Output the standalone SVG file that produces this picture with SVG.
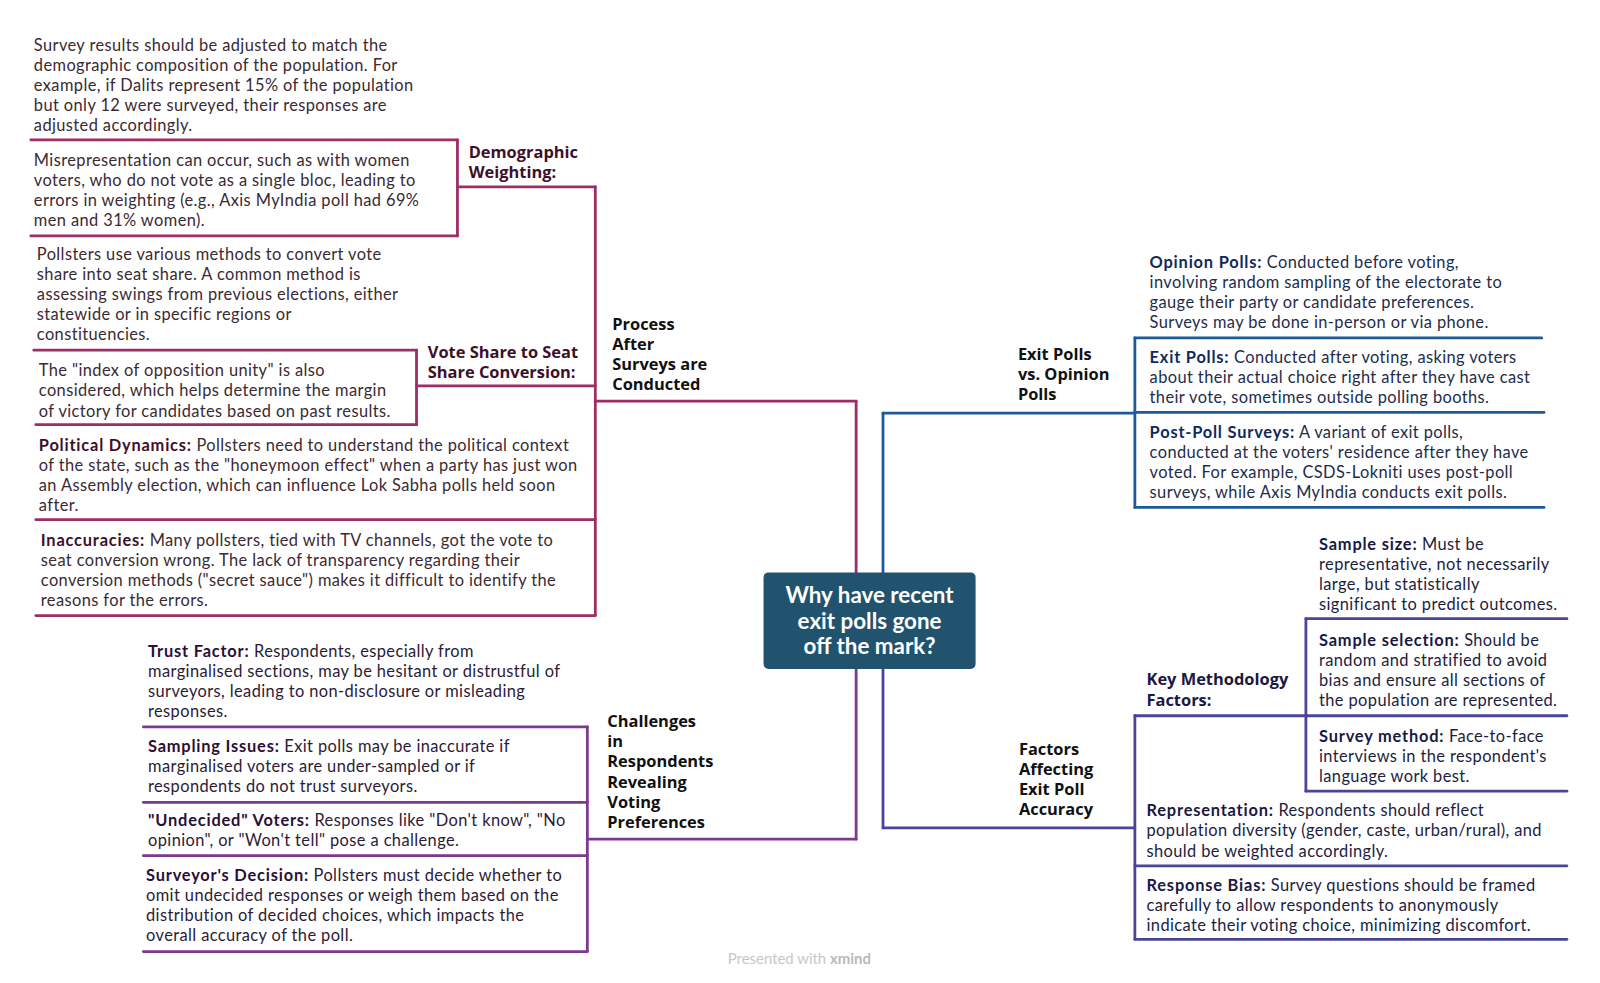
<svg xmlns="http://www.w3.org/2000/svg" width="1600" height="983" viewBox="0 0 1600 983">
<style>
.b{font-family:Lato,"Noto Sans",sans-serif;font-size:16.5px;letter-spacing:0.4px}
.k{font-weight:700;letter-spacing:0.8px}
.h{font-family:"Open Sans","Noto Sans",sans-serif;font-weight:700;font-size:16.5px}
.t1{fill:#3a2a33}.k1{fill:#3d1029}
.t2{fill:#2c1b35}.k2{fill:#2b0f36}
.t3{fill:#1e2c4b}.k3{fill:#0f2b5c}
.t4{fill:#201e3e}.k4{fill:#1b1842}
.hd{fill:#3d1029}.hb{fill:#111}
.ln{fill:none;stroke-width:2.8;stroke-linecap:round;stroke-linejoin:round}
.c1{stroke:#9e2d66}.c2{stroke:#7c3a8e}.c3{stroke:#1f5a98}.c4{stroke:#4a4596}
.ctr{font-family:Lato,"Noto Sans",sans-serif;font-weight:700;font-size:22.5px;fill:#fff}
</style>
<rect width="1600" height="983" fill="#fff"/>
<g transform="matrix(0.9955 0 0 0.9955 0 0)">
<g id="connectors">
<path class="ln c1" d="M860,575V403"/>
<path class="ln c2" d="M860,672V843"/>
<path class="ln c3" d="M887,575V415"/>
<path class="ln c4" d="M887,672V831.7"/>
<path class="ln c1" d="M598,187.7V618.4"/>
<path class="ln c1" d="M459.5,140.5V237"/>
<path class="ln c1" d="M418.4,351.8V426.6"/>
<path class="ln c2" d="M590,730.2V955.9"/>
<path class="ln c3" d="M1140,339.5V509.7"/>
<path class="ln c4" d="M1140,719V943.6"/>
<path class="ln c4" d="M1311.8,621.5V794.8"/>
</g>
<g id="center">
<rect x="767" y="575" width="213" height="97" rx="5" fill="#21536f"/>
<text class="ctr" text-anchor="middle"><tspan x="873.5" y="606">Why have recent</tspan><tspan x="873.5" y="632">exit polls gone</tspan><tspan x="873.5" y="657">off the mark?</tspan></text>
</g>
<g id="process">
<text class="h hb"><tspan x="615" y="331">Process</tspan><tspan x="615" y="351.2">After</tspan><tspan x="615" y="371.4">Surveys are</tspan><tspan x="615" y="391.6">Conducted</tspan></text>
<path class="ln c1" d="M598,403H860"/>
</g>
<g id="demographic">
<text class="h hd"><tspan x="470.8" y="158.5">Demographic</tspan><tspan x="470.8" y="178.7">Weighting:</tspan></text>
<path class="ln c1" d="M459.5,187.7H598"/>
</g>
<g id="survey-results">
<text class="b t1"><tspan x="34" y="51">Survey results should be adjusted to match the</tspan><tspan x="34" y="71.2">demographic composition of the population. For</tspan><tspan x="34" y="91.4">example, if Dalits represent 15% of the population</tspan><tspan x="34" y="111.6">but only 12 were surveyed, their responses are</tspan><tspan x="34" y="131.8">adjusted accordingly.</tspan></text>
<path class="ln c1" d="M31,140.5H459.5"/>
</g>
<g id="misrepresentation">
<text class="b t1"><tspan x="34" y="166.5">Misrepresentation can occur, such as with women</tspan><tspan x="34" y="186.7">voters, who do not vote as a single bloc, leading to</tspan><tspan x="34" y="206.9">errors in weighting (e.g., Axis MyIndia poll had 69%</tspan><tspan x="34" y="227.1">men and 31% women).</tspan></text>
<path class="ln c1" d="M31,237H459.5"/>
</g>
<g id="vote-share">
<text class="h hd"><tspan x="429.7" y="359.5">Vote Share to Seat</tspan><tspan x="429.7" y="379.7">Share Conversion:</tspan></text>
<path class="ln c1" d="M418.4,387.7H598"/>
</g>
<g id="pollsters-methods">
<text class="b t1"><tspan x="37" y="261">Pollsters use various methods to convert vote</tspan><tspan x="37" y="281.2">share into seat share. A common method is</tspan><tspan x="37" y="301.4">assessing swings from previous elections, either</tspan><tspan x="37" y="321.6">statewide or in specific regions or</tspan><tspan x="37" y="341.8">constituencies.</tspan></text>
<path class="ln c1" d="M34,351.8H418.4"/>
</g>
<g id="opposition-unity">
<text class="b t1"><tspan x="39" y="378">The "index of opposition unity" is also</tspan><tspan x="39" y="398.2">considered, which helps determine the margin</tspan><tspan x="39" y="418.4">of victory for candidates based on past results.</tspan></text>
<path class="ln c1" d="M36,426.6H418.4"/>
</g>
<g id="political-dynamics">
<text class="b t1"><tspan x="39" y="453"><tspan class="k k1">Political Dynamics:</tspan> Pollsters need to understand the political context</tspan><tspan x="39" y="473.2">of the state, such as the "honeymoon effect" when a party has just won</tspan><tspan x="39" y="493.4">an Assembly election, which can influence Lok Sabha polls held soon</tspan><tspan x="39" y="513.6">after.</tspan></text>
<path class="ln c1" d="M36,522H598"/>
</g>
<g id="inaccuracies">
<text class="b t1"><tspan x="41" y="548"><tspan class="k k1">Inaccuracies:</tspan> Many pollsters, tied with TV channels, got the vote to</tspan><tspan x="41" y="568.2">seat conversion wrong. The lack of transparency regarding their</tspan><tspan x="41" y="588.4">conversion methods ("secret sauce") makes it difficult to identify the</tspan><tspan x="41" y="608.6">reasons for the errors.</tspan></text>
<path class="ln c1" d="M36,618.4H598"/>
</g>
<g id="challenges">
<text class="h hb"><tspan x="610" y="730.5">Challenges</tspan><tspan x="610" y="750.7">in</tspan><tspan x="610" y="770.9">Respondents</tspan><tspan x="610" y="791.1">Revealing</tspan><tspan x="610" y="811.3">Voting</tspan><tspan x="610" y="831.5">Preferences</tspan></text>
<path class="ln c2" d="M590,843H860"/>
</g>
<g id="trust-factor">
<text class="b t2"><tspan x="148.7" y="660"><tspan class="k k2">Trust Factor:</tspan> Respondents, especially from</tspan><tspan x="148.7" y="680.2">marginalised sections, may be hesitant or distrustful of</tspan><tspan x="148.7" y="700.4">surveyors, leading to non-disclosure or misleading</tspan><tspan x="148.7" y="720.6">responses.</tspan></text>
<path class="ln c2" d="M144,730.2H590"/>
</g>
<g id="sampling-issues">
<text class="b t2"><tspan x="148.7" y="755.5"><tspan class="k k2">Sampling Issues:</tspan> Exit polls may be inaccurate if</tspan><tspan x="148.7" y="775.7">marginalised voters are under-sampled or if</tspan><tspan x="148.7" y="795.9">respondents do not trust surveyors.</tspan></text>
<path class="ln c2" d="M144,806H590"/>
</g>
<g id="undecided-voters">
<text class="b t2"><tspan x="148.7" y="830"><tspan class="k k2">"Undecided" Voters:</tspan> Responses like "Don't know", "No</tspan><tspan x="148.7" y="850.2">opinion", or "Won't tell" pose a challenge.</tspan></text>
<path class="ln c2" d="M144,859.5H590"/>
</g>
<g id="surveyors-decision">
<text class="b t2"><tspan x="146.7" y="884.5"><tspan class="k k2">Surveyor's Decision:</tspan> Pollsters must decide whether to</tspan><tspan x="146.7" y="904.7">omit undecided responses or weigh them based on the</tspan><tspan x="146.7" y="924.9">distribution of decided choices, which impacts the</tspan><tspan x="146.7" y="945.1">overall accuracy of the poll.</tspan></text>
<path class="ln c2" d="M144,955.9H590"/>
</g>
<g id="exit-vs-opinion">
<text class="h hb"><tspan x="1022.5" y="361.5">Exit Polls</tspan><tspan x="1022.5" y="381.7">vs. Opinion</tspan><tspan x="1022.5" y="401.9">Polls</tspan></text>
<path class="ln c3" d="M887,415H1140"/>
</g>
<g id="opinion-polls">
<text class="b t3"><tspan x="1154.8" y="269"><tspan class="k k3">Opinion Polls:</tspan> Conducted before voting,</tspan><tspan x="1154.8" y="289.2">involving random sampling of the electorate to</tspan><tspan x="1154.8" y="309.4">gauge their party or candidate preferences.</tspan><tspan x="1154.8" y="329.6">Surveys may be done in-person or via phone.</tspan></text>
<path class="ln c3" d="M1140,339.5H1548.7"/>
</g>
<g id="exit-polls">
<text class="b t3"><tspan x="1154.8" y="364.5"><tspan class="k k3">Exit Polls:</tspan> Conducted after voting, asking voters</tspan><tspan x="1154.8" y="384.7">about their actual choice right after they have cast</tspan><tspan x="1154.8" y="404.9">their vote, sometimes outside polling booths.</tspan></text>
<path class="ln c3" d="M1140,414.3H1551"/>
</g>
<g id="post-poll">
<text class="b t3"><tspan x="1154.8" y="439.5"><tspan class="k k3">Post-Poll Surveys:</tspan> A variant of exit polls,</tspan><tspan x="1154.8" y="459.7">conducted at the voters' residence after they have</tspan><tspan x="1154.8" y="479.9">voted. For example, CSDS-Lokniti uses post-poll</tspan><tspan x="1154.8" y="500.1">surveys, while Axis MyIndia conducts exit polls.</tspan></text>
<path class="ln c3" d="M1140,509.7H1551"/>
</g>
<g id="factors">
<text class="h hb"><tspan x="1023.5" y="758.5">Factors</tspan><tspan x="1023.5" y="778.7">Affecting</tspan><tspan x="1023.5" y="798.9">Exit Poll</tspan><tspan x="1023.5" y="819.1">Accuracy</tspan></text>
<path class="ln c4" d="M887,831.7H1140"/>
</g>
<g id="key-methodology">
<text class="h k4"><tspan x="1151.7" y="688.5">Key Methodology</tspan><tspan x="1151.7" y="708.7">Factors:</tspan></text>
<path class="ln c4" d="M1140,719H1311.8"/>
</g>
<g id="sample-size">
<text class="b t4"><tspan x="1325" y="552"><tspan class="k k4">Sample size:</tspan> Must be</tspan><tspan x="1325" y="572.2">representative, not necessarily</tspan><tspan x="1325" y="592.4">large, but statistically</tspan><tspan x="1325" y="612.6">significant to predict outcomes.</tspan></text>
<path class="ln c4" d="M1311.8,621.5H1574"/>
</g>
<g id="sample-selection">
<text class="b t4"><tspan x="1325" y="648.5"><tspan class="k k4">Sample selection:</tspan> Should be</tspan><tspan x="1325" y="668.7">random and stratified to avoid</tspan><tspan x="1325" y="688.9">bias and ensure all sections of</tspan><tspan x="1325" y="709.1">the population are represented.</tspan></text>
<path class="ln c4" d="M1311.8,719H1574"/>
</g>
<g id="survey-method">
<text class="b t4"><tspan x="1325" y="745"><tspan class="k k4">Survey method:</tspan> Face-to-face</tspan><tspan x="1325" y="765.2">interviews in the respondent's</tspan><tspan x="1325" y="785.4">language work best.</tspan></text>
<path class="ln c4" d="M1311.8,794.8H1574"/>
</g>
<g id="representation">
<text class="b t4"><tspan x="1151.7" y="820"><tspan class="k k4">Representation:</tspan> Respondents should reflect</tspan><tspan x="1151.7" y="840.2">population diversity (gender, caste, urban/rural), and</tspan><tspan x="1151.7" y="860.4">should be weighted accordingly.</tspan></text>
<path class="ln c4" d="M1140,869.7H1574"/>
</g>
<g id="response-bias">
<text class="b t4"><tspan x="1151.7" y="894.7"><tspan class="k k4">Response Bias:</tspan> Survey questions should be framed</tspan><tspan x="1151.7" y="914.9">carefully to allow respondents to anonymously</tspan><tspan x="1151.7" y="935.1">indicate their voting choice, minimizing discomfort.</tspan></text>
<path class="ln c4" d="M1140,943.6H1574"/>
</g>
<g id="watermark">
<text x="803" y="968" text-anchor="middle" style="font-family:Lato,'Noto Sans',sans-serif;font-size:15px;fill:#c8c8c8">Presented with <tspan style="font-weight:700;fill:#b9b9b9">xmind</tspan></text>
</g>
</g>
</svg>
